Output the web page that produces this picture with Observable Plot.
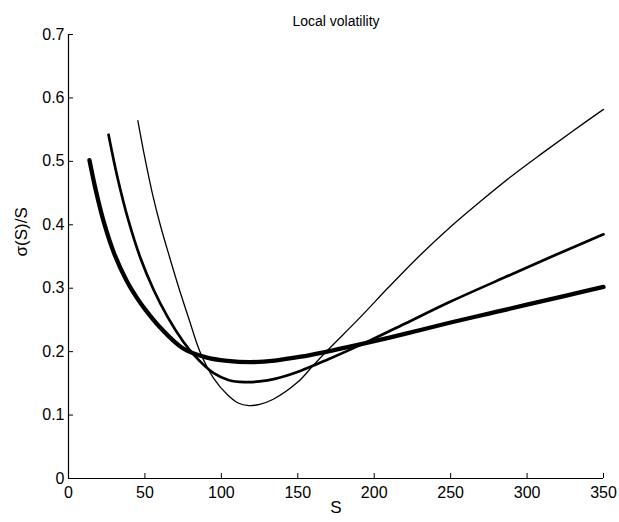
<!DOCTYPE html>
<html><head><meta charset="utf-8">
<script src="https://cdn.jsdelivr.net/npm/d3@7"></script>
<script src="https://cdn.jsdelivr.net/npm/@observablehq/plot@0.6"></script>
<style>body{margin:0;background:#fff;} svg{font-family:"Liberation Sans",Arial,sans-serif;}</style>
</head><body><div id="chart"></div>
<script>
// Local volatility curves, sigma(S)/S versus S
const thickS = [13.7, 18, 23.5, 30, 38.2, 45, 50, 60, 75, 90, 104, 119, 135, 152, 167, 190, 220, 250, 275, 300, 325, 350];
const thickV = [0.502, 0.453, 0.401, 0.354, 0.311, 0.284, 0.267, 0.238, 0.205, 0.191, 0.1855, 0.1835, 0.186, 0.192, 0.199, 0.211, 0.228, 0.246, 0.260, 0.274, 0.288, 0.302];
const mediumS = [26.2, 32, 39.3, 47, 55.6, 65, 75, 82, 95, 105, 115, 125, 135, 152, 170, 195, 220, 250, 290, 320, 350];
const mediumV = [0.542, 0.475, 0.406, 0.348, 0.298, 0.254, 0.216, 0.195, 0.166, 0.155, 0.152, 0.153, 0.157, 0.170, 0.188, 0.215, 0.244, 0.279, 0.322, 0.354, 0.385];
const thinS = [45.4, 50, 55, 60, 66, 72, 79, 86, 95, 104, 111, 118, 125, 134, 150, 160, 169, 190, 210, 230, 250, 270, 290, 310, 330, 350];
const thinV = [0.564, 0.505, 0.448, 0.400, 0.350, 0.302, 0.250, 0.200, 0.158, 0.132, 0.119, 0.115, 0.117, 0.125, 0.152, 0.178, 0.201, 0.252, 0.303, 0.352, 0.397, 0.438, 0.477, 0.513, 0.548, 0.582];
const xTicks = [0, 50, 100, 150, 200, 250, 300, 350];
const yTicks = [0, 0.1, 0.2, 0.3, 0.4, 0.5, 0.6, 0.7];
const titleText = "Local volatility";
const xLabel = "S";
const yLabel = "σ(S)/S";

const toRows = (S, V) => S.map((s, i) => ({S: s, v: V[i]}));
const thick = toRows(thickS, thickV);
const medium = toRows(mediumS, mediumV);
const thin = toRows(thinS, thinV);

const W = 619, H = 522;
const mL = 68, mR = 16, mT = 34, mB = 44;
const frameW = W - mL - mR, frameH = H - mT - mB;
const tickLen = 5;

const chart = Plot.plot({
  width: W, height: H,
  marginLeft: mL, marginRight: mR, marginTop: mT, marginBottom: mB,
  x: {domain: [0, 350]},
  y: {domain: [0, 0.7]},
  style: {fontFamily: "'Liberation Sans', Arial, sans-serif", background: "#fff", color: "#000"},
  marks: [
    Plot.line(thick, {x: "S", y: "v", stroke: "#000", strokeWidth: 4.3, curve: "catmull-rom"}),
    Plot.line(medium, {x: "S", y: "v", stroke: "#000", strokeWidth: 2.7, curve: "catmull-rom"}),
    Plot.line(thin, {x: "S", y: "v", stroke: "#000", strokeWidth: 1.3, curve: "catmull-rom"}),
    Plot.ruleX([0], {stroke: "#000", strokeWidth: 1.2}),
    Plot.ruleY([0], {stroke: "#000", strokeWidth: 1.2}),
    Plot.tickX(xTicks, {x: d => d, insetTop: frameH - tickLen, stroke: "#000"}),
    Plot.tickY(yTicks, {y: d => d, insetRight: frameW - tickLen, stroke: "#000"}),
    Plot.axisX({ticks: xTicks, tickSize: 0, tickPadding: 8, fontSize: 16, label: null, tickFormat: d => String(d)}),
    Plot.axisY({ticks: yTicks, tickSize: 0, tickPadding: 4, fontSize: 16, label: null, tickFormat: d => String(d)}),
    Plot.text([xLabel], {frameAnchor: "bottom", dy: 34, fontSize: 17, fill: "#000"}),
    Plot.text([yLabel], {frameAnchor: "left", dx: -47, rotate: -90, fontSize: 17, fill: "#000"}),
    Plot.text([titleText], {frameAnchor: "top", dy: -18, fontSize: 14, fill: "#000"})
  ]
});
document.getElementById("chart").appendChild(chart);
</script>
</body></html>
